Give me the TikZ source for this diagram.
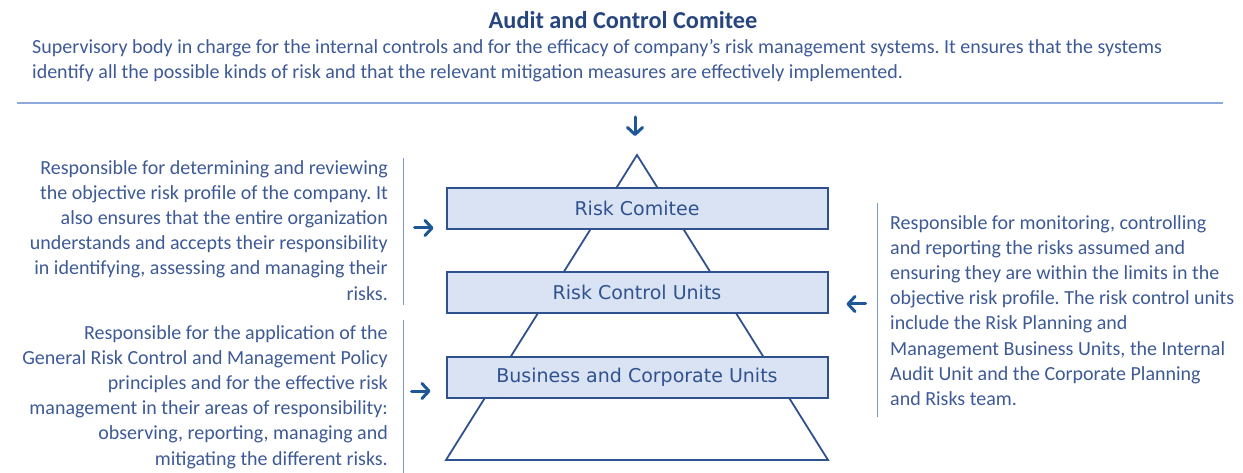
\documentclass[tikz,border=0pt]{standalone}
\usepackage{fontspec}
\setmainfont{Carlito}
\newfontfamily\boxfont{DejaVu Sans}
\usetikzlibrary{calc,arrows.meta}

\definecolor{txtblue}{HTML}{3D5A97}
\definecolor{titleblue}{HTML}{26457F}
\definecolor{arrblue}{HTML}{1D5796}
\definecolor{boxfill}{HTML}{DAE3F3}
\definecolor{boxline}{HTML}{2F528F}
\definecolor{ruleblue}{HTML}{8EA9DB}

\tikzset{
  body/.style={inner sep=0pt, text=txtblue, font=\fontsize{20}{25.2}\selectfont},
  tier/.style={draw=boxline, line width=2pt, fill=boxfill, minimum width=381pt,
    minimum height=41pt, inner sep=0pt, text=boxline, font=\boxfont\fontsize{19}{22}\selectfont},
  arr/.style={arrblue, line width=3pt, line cap=round, -{Straight Barb[length=7pt,width=15pt,round]}},
  divider/.style={ruleblue!80!boxline, line width=1pt},
}

\begin{document}
\frenchspacing
\begin{tikzpicture}[x=1pt, y=-1pt]
\useasboundingbox (0,0) rectangle (1243,473);

% header
\node[body, font=\bfseries\fontsize{24.3}{28}\selectfont, text=titleblue] (acc) at (623,20) {Audit and Control Comitee};
\node[body, anchor=north west, align=left] (accdesc) at (32,39)
  {Supervisory body in charge for the internal controls and for the efficacy of company’s risk management systems. It ensures that the systems\\
   identify all the possible kinds of risk and that the relevant mitigation measures are effectively implemented.};
\draw[ruleblue, line width=2pt] (17,103) -- (1223,103);

% pyramid
\draw[boxline, line width=1.8pt, line join=miter] (637,155) -- (828,460) -- (446,460) -- cycle;
\node[tier] (rc) at (637,208.5) {Risk Comitee};
\node[tier] (rcu) at (637,292.5) {Risk Control Units};
\node[tier] (bcu) at (637,377.5) {Business and Corporate Units};

% side descriptions
\node[body, anchor=north east, align=right] (rcdesc) at (388,160)
  {Responsible for determining and reviewing\\
   the objective risk profile of the company. It\\
   also ensures that the entire organization\\
   understands and accepts their responsibility\\
   in identifying, assessing and managing their\\
   risks.};
\node[body, anchor=north east, align=right] (bcudesc) at (388,325)
  {Responsible for the application of the\\
   General Risk Control and Management Policy\\
   principles and for the effective risk\\
   management in their areas of responsibility:\\
   observing, reporting, managing and\\
   mitigating the different risks.};
\node[body, anchor=north west, align=left] (rcudesc) at (890,215)
  {Responsible for monitoring, controlling\\
   and reporting the risks assumed and\\
   ensuring they are within the limits in the\\
   objective risk profile. The risk control units\\
   include the Risk Planning and\\
   Management Business Units, the Internal\\
   Audit Unit and the Corporate Planning\\
   and Risks team.};

\draw[divider] (403,158) -- (403,305);
\draw[divider] (403,320) -- (403,473);
\draw[divider] (877,203) -- (877,417);

% arrows
\draw[arr] ($(rc.north)+(-2,-70)$) -- ($(rc.north)+(-2,-51)$);
\draw[arr] ($(rc.south west)+(-31,-2)$) -- ($(rc.south west)+(-12,-2)$);
\draw[arr] ($(bcu.south west)+(-34,-8)$) -- ($(bcu.south west)+(-15,-8)$);
\draw[arr] ($(rcu.south east)+(37,-10)$) -- ($(rcu.south east)+(18,-10)$);
\end{tikzpicture}
\end{document}
